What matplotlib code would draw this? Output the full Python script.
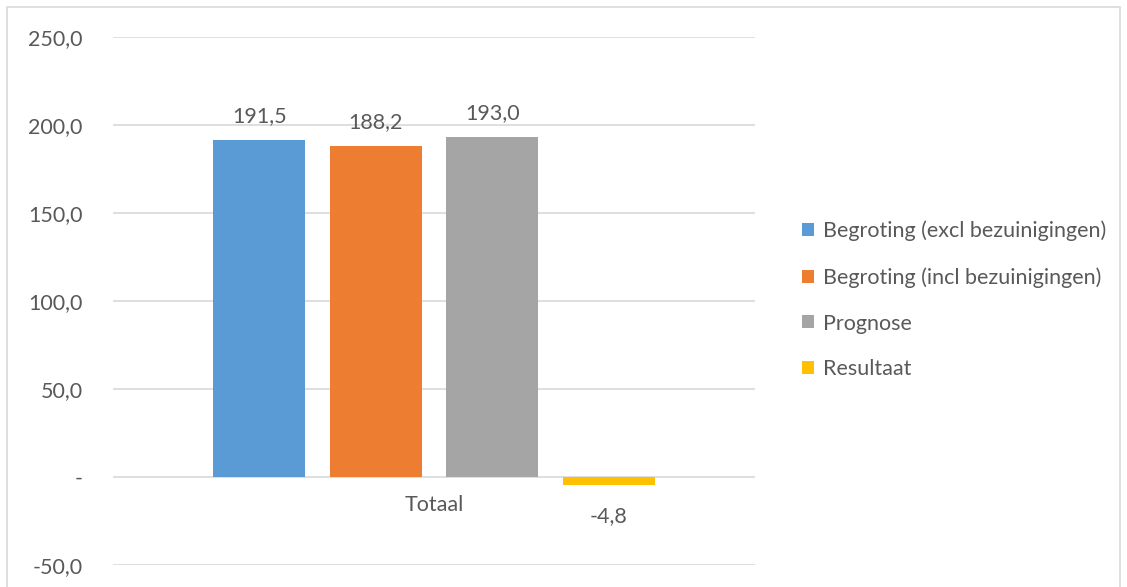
import numpy as np
import matplotlib.pyplot as plt
from matplotlib.patches import Patch, Rectangle

plt.rcParams['font.family'] = ['Lato', 'DejaVu Sans']

categories = ['Totaal']
series = ['Begroting (excl bezuinigingen)', 'Begroting (incl bezuinigingen)',
          'Prognose', 'Resultaat']
values = [191.5, 188.2, 193.0, -4.8]
colors = ['#5B9BD5', '#ED7D31', '#A5A5A5', '#FFC000']
yticks = [-50, 0, 50, 100, 150, 200, 250]

txt = '#595959'
fs = 15.5

fig = plt.figure(figsize=(11.27, 5.87), dpi=100)
ax = fig.add_axes([0.1003, 0.0375, 0.5697, 0.8995])

# light frame round the whole chart
fig.patches.append(Rectangle((7 / 1127, -0.05), 1113 / 1127, 1 - 7 / 587 + 0.05,
                             transform=fig.transFigure, fill=False,
                             edgecolor='#D9D9D9', linewidth=1.2))

step = 0.1815
width = 0.1433
x = np.arange(len(categories))
for i, (name, v, c) in enumerate(zip(series, values, colors)):
    xpos = x + (i - 1.5) * step
    bars = ax.bar(xpos, [v], width=width, color=c, label=name, zorder=3)
    for b in bars:
        h = b.get_height()
        lab = f'{h:.1f}'.replace('.', ',')
        if h >= 0:
            ax.annotate(lab, (b.get_x() + b.get_width() / 2, h), xytext=(0, 10),
                        textcoords='offset points', ha='center', va='bottom',
                        color=txt, fontsize=fs)
        else:
            ax.annotate(lab, (b.get_x() + b.get_width() / 2, h), xytext=(0, -15),
                        textcoords='offset points', ha='center', va='top',
                        color=txt, fontsize=fs)

ax.set_xlim(-0.5, 0.5)
ax.set_ylim(-50, 250)
ax.set_yticks(yticks)
ax.set_yticklabels(['-' if t == 0 else f'{t:.1f}'.replace('.', ',') for t in yticks],
                   color=txt, fontsize=fs)
ax.yaxis.grid(True, color='#D9D9D9', linewidth=1.2, zorder=0)
ax.tick_params(axis='y', length=0, pad=22)

ax.spines['bottom'].set_position(('data', 0))
ax.set_xticks(x)
ax.set_xticklabels(categories, color=txt, fontsize=fs)
ax.tick_params(axis='x', length=0, pad=13)
for s in ax.spines.values():
    s.set_visible(False)

handles = [Patch(facecolor=c, label=n) for n, c in zip(series, colors)]
leg = fig.legend(handles=handles, loc='center left',
                 bbox_to_anchor=(783 / 1127, 1 - 300 / 587), frameon=False,
                 fontsize=fs, handlelength=0.55, handleheight=0.55,
                 handletextpad=0.4, labelspacing=1.2)
for t in leg.get_texts():
    t.set_color(txt)

fig.savefig('out.png', dpi=100)
